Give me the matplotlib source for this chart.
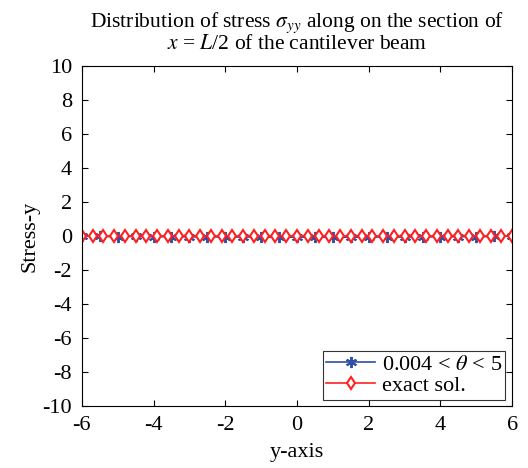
import numpy as np
import matplotlib
matplotlib.use('Agg')
import matplotlib.pyplot as plt

plt.rcParams['font.family'] = ['Liberation Serif', 'DejaVu Serif']
plt.rcParams['mathtext.fontset'] = 'stix'
plt.rcParams['axes.unicode_minus'] = False

# exact solution nodes (sigma_yy = 0 along the section)
y_exact = np.linspace(-6, 6, 41)
s_exact = np.zeros(41)

# numerical solution (0.004 < theta < 5), tiny values near zero
y_num = np.linspace(-6, 6, 25)
s_num = [0.00, -0.02, -0.03, -0.02, -0.04, -0.03, -0.05, -0.04, -0.06, -0.05,
         -0.06, -0.07, -0.06, -0.07, -0.06, -0.07, -0.06, -0.05, -0.06, -0.04,
         -0.05, -0.03, -0.04, -0.02, 0.00]

fig = plt.figure(figsize=(5.28, 4.68), dpi=100)
ax = fig.add_axes([0.155, 0.132, 0.815, 0.727])

ax.plot(y_num, s_num, color='#2f4fa8', marker=(6, 2, 0), markersize=8,
        markeredgewidth=1.4, linewidth=1.2, label=r'0.004 < $\theta$ < 5')
ax.plot(y_exact, s_exact, color='#ff2020', marker='d', markersize=6,
        markerfacecolor='white', markeredgewidth=1.5, linewidth=1.2,
        label='exact sol.')

ax.set_xlim(-6, 6)
ax.set_ylim(-10, 10)
ax.set_xticks(np.arange(-6, 7, 2))
ax.set_yticks(np.arange(-10, 11, 2))
ax.tick_params(direction='in', top=True, right=True, labelsize=16, length=4,
               pad=7)

ax.set_xlabel('y-axis', fontsize=16, labelpad=6)
ax.set_ylabel('Stress-y', fontsize=16, labelpad=2)
ax.set_title('Distribution of stress $\\sigma_{yy}$ along on the section of\n'
             '$x$ = $L$/2 of the cantilever beam', fontsize=15.5,
             linespacing=1.05, pad=12)

leg = ax.legend(loc='lower right', fontsize=16, frameon=True, fancybox=False,
                edgecolor='black', borderaxespad=0.3, handlelength=2.2,
                handletextpad=0.3, borderpad=0.15, labelspacing=0.05)
leg.get_frame().set_linewidth(0.8)

fig.savefig('out.png', dpi=100)
